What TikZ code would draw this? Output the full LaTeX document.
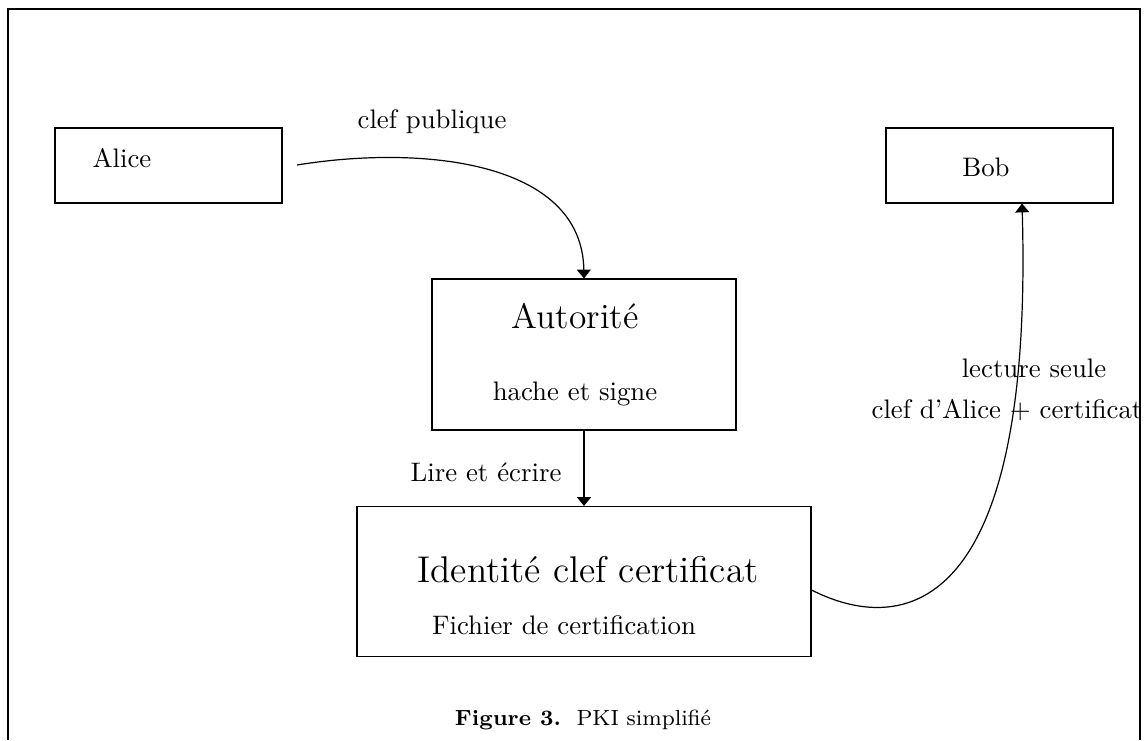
\documentclass[tikz,border=0pt]{standalone}
\usetikzlibrary{arrows.meta}
\begin{document}
\begin{tikzpicture}[x=0.3735pt,y=-0.3735pt,
  box/.style={draw,line width=0.4pt,inner sep=0pt,rectangle},
  txt/.style={inner sep=0pt,anchor=base},
  conn/.style={line width=0.45pt,-{Triangle[width=5.2pt,length=3.3pt]}}]
\useasboundingbox (0,0) rectangle (1144,740);
\draw[line width=0.8pt] (8,740) -- (8,9) -- (1140,9) -- (1140,740);
% boxes
\node[box,minimum width=227*0.3735pt,minimum height=75*0.3735pt] (alice) at (168.5,165.5) {};
\node[box,minimum width=227*0.3735pt,minimum height=75*0.3735pt] (bob) at (999.5,165.5) {};
\node[box,minimum width=304*0.3735pt,minimum height=151*0.3735pt] (auto) at (584,354.5) {};
\node[box,minimum width=454*0.3735pt,minimum height=150*0.3735pt] (ident) at (584,581.5) {};
% texts
\node[txt] (talice) at (122,167) {Alice};
\node[txt] (tbob) at (986,176) {Bob};
\node[txt] (tpub) at (432,128) {clef publique};
\node[txt,font=\fontsize{13.2}{16}\selectfont] (tauto) at (575,328) {Autorité};
\node[txt] (thache) at (575,400) {hache et signe};
\node[txt] (tlire) at (486,481) {Lire et écrire};
\node[txt,font=\fontsize{13.9}{17}\selectfont] (tident) at (588,582) {Identité clef certificat};
\node[txt] (tfich) at (564,634) {Fichier de certification};
\node[txt] (tlect) at (1034,377) {lecture seule};
\node[txt] (tclef) at (1007,418) {clef d'Alice $+$ certificat};
\node[txt,font=\fontsize{8.2}{10}\selectfont] (tcap) at (583,725) {\textbf{Figure 3.}\ \ PKI simplifié};
% connectors
\coordinate (a0) at (297,165);
\draw[conn] (a0) .. controls (420,145) and (582,160) .. (auto.north);
\draw[conn] (auto.south) -- (ident.north);
\coordinate (b0) at (ident.east |- 0,590);
\coordinate (b1) at (bob.south -| 1022,0);
\draw[conn] (b0) .. controls (900,635) and (1034,620) .. (b1);
\end{tikzpicture}
\end{document}
